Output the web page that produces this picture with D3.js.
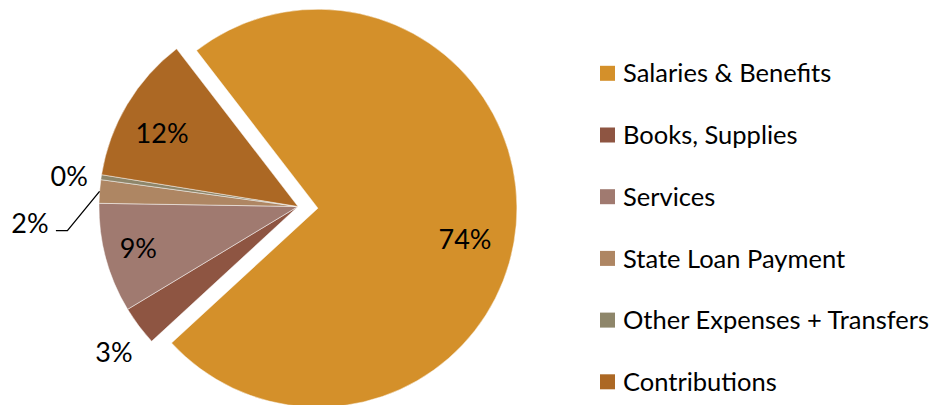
<!DOCTYPE html>
<html>
<head>
<meta charset="utf-8">
<script src="https://cdn.jsdelivr.net/npm/d3@7.9.0/dist/d3.min.js"></script>
<style>
  body { margin: 0; background: #fff; }
  svg { display: block; font-family: Lato, "Open Sans", sans-serif; }
</style>
</head>
<body>
<svg id="chart" width="934" height="405"></svg>
<script>
// Data (percent of total)
const categories = ["Salaries & Benefits", "Books, Supplies", "Services",
                    "State Loan Payment", "Other Expenses + Transfers", "Contributions"];
const values = [73.6, 3.2, 8.9, 1.9, 0.4, 12.0];
const labels = ["74%", "3%", "9%", "2%", "0%", "12%"];
const colors = ["#D4902A", "#8E5542", "#A07A70", "#AE8663", "#8E866A", "#AC6824"];

// label placement: [radius factor, angle shift in degrees] (like manual label layout)
const labelLayout = [[0.755, 7], [1.18, -1.5], [0.83, 0.3], [1.35, -8], [1.16, -1], [0.775, -2.6]];

const svg = d3.select("#chart");
const cx = 298, cy = 206.5, r = 199, explode = 20;
const firstAngle = -37.6 * Math.PI / 180;

const pie = d3.pie().sort(null).value(d => d)
  .startAngle(firstAngle).endAngle(firstAngle + 2 * Math.PI);
const arcs = pie(values);
const arc = d3.arc().innerRadius(0).outerRadius(r);

const g = svg.append("g").attr("transform", `translate(${cx},${cy})`);

function offset(d, i) {
  if (i !== 0) return [0, 0];
  const a = (d.startAngle + d.endAngle) / 2;
  return [explode * Math.sin(a), -explode * Math.cos(a)];
}

// Slices
g.selectAll("path.slice")
  .data(arcs)
  .join("path")
  .attr("class", "slice")
  .attr("d", arc)
  .attr("transform", (d, i) => `translate(${offset(d, i)})`)
  .attr("fill", (d, i) => colors[i])
  .attr("stroke", "#fff")
  .attr("stroke-opacity", 0.6)
  .attr("stroke-width", 0.8);

// Label positions
const labelPos = arcs.map((d, i) => {
  const [k, shift] = labelLayout[i];
  const a = (d.startAngle + d.endAngle) / 2 + shift * Math.PI / 180;
  const o = offset(d, i);
  return [o[0] + k * r * Math.sin(a), o[1] - k * r * Math.cos(a)];
});

// Leader line for the pushed-out "2%" label
const si = 3;
const midA = (arcs[si].startAngle + arcs[si].endAngle) / 2;
const start = [r * Math.sin(midA), -r * Math.cos(midA)];
const lp = labelPos[si];
g.append("polyline")
  .attr("points", [start, [lp[0] + 37.5, lp[1] + 7], [lp[0] + 26, lp[1] + 7]].map(p => p.join(",")).join(" "))
  .attr("fill", "none")
  .attr("stroke", "#000")
  .attr("stroke-width", 1.3);

g.selectAll("text.lbl")
  .data(labels)
  .join("text")
  .attr("class", "lbl")
  .attr("x", (d, i) => labelPos[i][0])
  .attr("y", (d, i) => labelPos[i][1])
  .attr("dy", "0.36em")
  .attr("text-anchor", "middle")
  .attr("font-size", "27px")
  .attr("fill", "#000")
  .text(d => d);

// Legend
const legend = svg.append("g").attr("transform", "translate(600, 73.3)");
const row = legend.selectAll("g")
  .data(categories)
  .join("g")
  .attr("transform", (d, i) => `translate(0, ${i * 61.7})`);

row.append("rect")
  .attr("x", 0)
  .attr("y", -7.5)
  .attr("width", 15)
  .attr("height", 15)
  .attr("fill", (d, i) => colors[i]);

row.append("text")
  .attr("x", 23)
  .attr("y", 0)
  .attr("dy", "0.36em")
  .attr("font-size", "25.5px")
  .attr("fill", "#000")
  .text(d => d);
</script>
</body>
</html>
